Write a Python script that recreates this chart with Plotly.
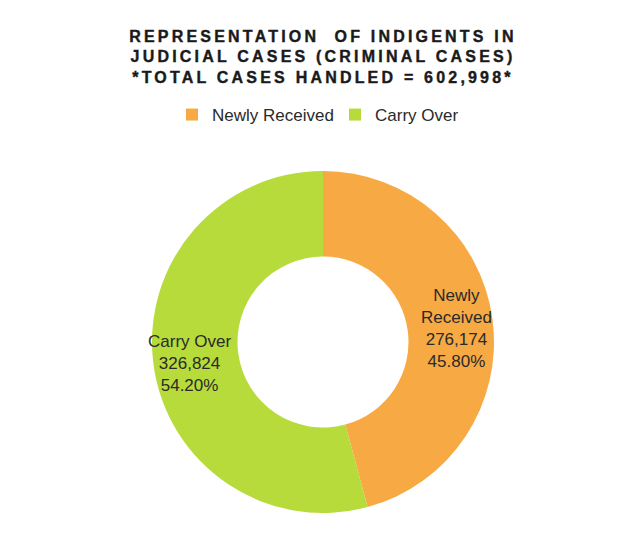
import math
import plotly.graph_objects as go

# Case counts by category
categories = ["Newly Received", "Carry Over"]
slice_text = ["Newly<br>Received", "Carry Over"]
case_counts = [276174, 326824]
percent_labels = ["45.80%", "54.20%"]
colors = ["#F7A944", "#B6DB3B"]

W, H = 630, 558
cx, cy, r = 323, 342, 171
label_r = 135       # distance of the slice labels from the donut centre, px
label_dy = 4        # small downward nudge of the label blocks, px

fig = go.Figure(
    go.Pie(
        labels=categories,
        values=case_counts,
        textinfo="none",
        marker=dict(colors=colors, line=dict(width=0)),
        hole=0.5,
        sort=False,
        direction="clockwise",
        rotation=0,
        hoverinfo="label+value+percent",
        domain=dict(
            x=[(cx - r) / W, (cx + r) / W],
            y=[1 - (cy + r) / H, 1 - (cy - r) / H],
        ),
    )
)

# Slice labels placed at the middle angle of each slice
total = sum(case_counts)
cum = 0
annotations = []
for name, value, pct in zip(slice_text, case_counts, percent_labels):
    theta = 2 * math.pi * (cum + value / 2) / total
    cum += value
    px = cx + label_r * math.sin(theta)
    py = cy - label_r * math.cos(theta) + label_dy
    annotations.append(
        dict(
            text=f"{name}<br>{value:,}<br>{pct}",
            x=px / W,
            y=1 - py / H,
            xref="paper",
            yref="paper",
            xanchor="center",
            yanchor="middle",
            showarrow=False,
            align="center",
            font=dict(family="Liberation Sans, Arial", size=17, color="#2a2a2a"),
        )
    )

fig.update_layout(
    width=W,
    height=H,
    margin=dict(l=0, r=0, t=0, b=0),
    paper_bgcolor="white",
    plot_bgcolor="white",
    font=dict(family="Liberation Sans, Arial", color="#222222"),
    title=dict(
        text="<b>REPRESENTATION  OF INDIGENTS IN<br>JUDICIAL CASES (CRIMINAL CASES)<br>*TOTAL CASES HANDLED = 602,998*</b>",
        x=323 / W,
        xanchor="center",
        y=1 - 41.5 / H,
        yanchor="top",
        yref="container",
        font=dict(family="Liberation Sans, Arial", size=16, color="#1a1a1a"),
    ),
    legend=dict(
        orientation="h",
        x=172 / W,
        xanchor="left",
        y=1 - 97 / H,
        yanchor="top",
        font=dict(family="Liberation Sans, Arial", size=17, color="#2a2a2a"),
        itemwidth=30,
        entrywidth=118,
        entrywidthmode="pixels",
        traceorder="normal",
    ),
    annotations=annotations,
    showlegend=True,
)

# Widen the title's letter spacing and give it a slightly heavier stroke
post = """
document.querySelectorAll('.gtitle').forEach(function (t) {
    t.style.letterSpacing = '3.2px';
    t.style.stroke = '#1a1a1a';
    t.style.strokeWidth = '0.4px';
});
"""

fig.write_html("out.html", post_script=post)
